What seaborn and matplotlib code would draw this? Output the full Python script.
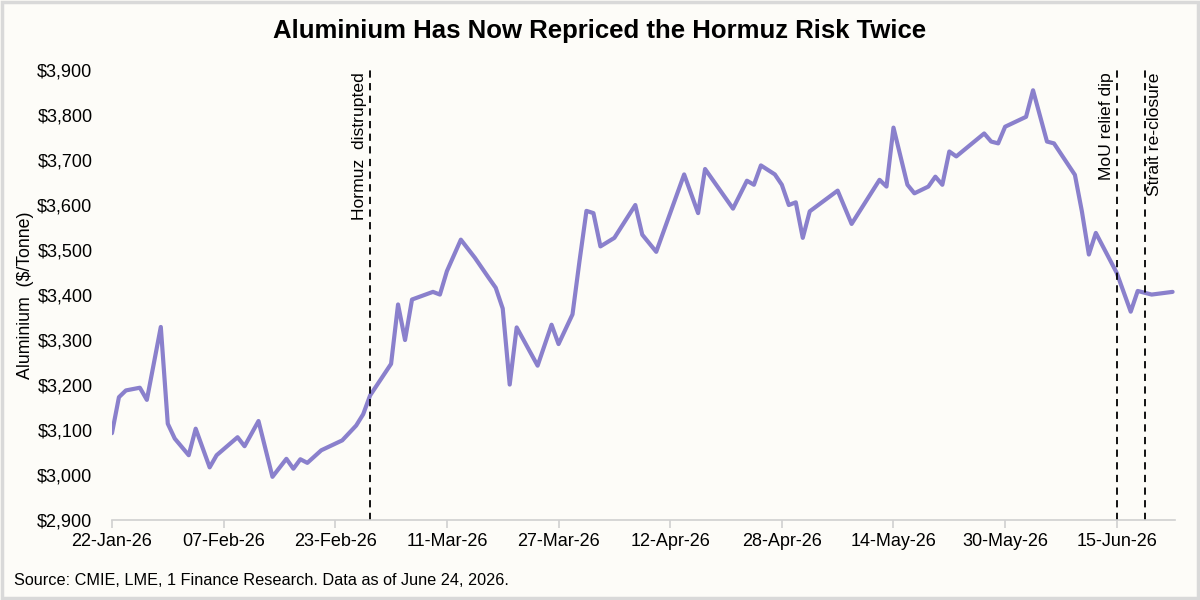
import pandas as pd
import matplotlib.pyplot as plt
import matplotlib.dates as mdates
from matplotlib.patches import Rectangle
import seaborn as sns

# Aluminium price readings ($/tonne)
dates = [
    "2026-01-22", "2026-01-23", "2026-01-24", "2026-01-26", "2026-01-27", "2026-01-29",
    "2026-01-30", "2026-01-31", "2026-02-02", "2026-02-03", "2026-02-05", "2026-02-06",
    "2026-02-09", "2026-02-10", "2026-02-12", "2026-02-14", "2026-02-16", "2026-02-17",
    "2026-02-18", "2026-02-19", "2026-02-21", "2026-02-24", "2026-02-26", "2026-02-27",
    "2026-02-28", "2026-03-03", "2026-03-04", "2026-03-05", "2026-03-06", "2026-03-09",
    "2026-03-10", "2026-03-11", "2026-03-13", "2026-03-15", "2026-03-17", "2026-03-18",
    "2026-03-19", "2026-03-20", "2026-03-21", "2026-03-24", "2026-03-26", "2026-03-27",
    "2026-03-29", "2026-03-30", "2026-03-31", "2026-04-01", "2026-04-02", "2026-04-04",
    "2026-04-07", "2026-04-08", "2026-04-10", "2026-04-14", "2026-04-16", "2026-04-17",
    "2026-04-21", "2026-04-23", "2026-04-24", "2026-04-25", "2026-04-27", "2026-04-28",
    "2026-04-29", "2026-04-30", "2026-05-01", "2026-05-02", "2026-05-06", "2026-05-08",
    "2026-05-12", "2026-05-13", "2026-05-14", "2026-05-16", "2026-05-17", "2026-05-19",
    "2026-05-20", "2026-05-21", "2026-05-22", "2026-05-23", "2026-05-27", "2026-05-28",
    "2026-05-29", "2026-05-30", "2026-06-02", "2026-06-03", "2026-06-05", "2026-06-06",
    "2026-06-09", "2026-06-10", "2026-06-11", "2026-06-12", "2026-06-15", "2026-06-17",
    "2026-06-18", "2026-06-20", "2026-06-23",
]
prices = [
    3093, 3173, 3188, 3194, 3167, 3329,
    3114, 3081, 3044, 3103, 3017, 3044,
    3084, 3064, 3120, 2996, 3036, 3014,
    3035, 3027, 3055, 3077, 3110, 3135,
    3177, 3247, 3379, 3300, 3390, 3407,
    3401, 3453, 3523, 3483, 3438, 3416,
    3370, 3201, 3328, 3243, 3334, 3291,
    3357, 3475, 3587, 3582, 3508, 3527,
    3600, 3534, 3496, 3668, 3582, 3680,
    3592, 3654, 3645, 3688, 3668, 3645,
    3600, 3606, 3527, 3586, 3632, 3558,
    3656, 3641, 3772, 3645, 3626, 3641,
    3663, 3645, 3719, 3708, 3759, 3741,
    3737, 3774, 3796, 3855, 3741, 3737,
    3667, 3586, 3490, 3538, 3449, 3363,
    3409, 3401, 3407,
]

# event markers
event_dates = ["2026-02-28", "2026-06-15", "2026-06-19"]
event_labels = ["Hormuz  distrupted", "MoU relief dip", "Strait re-closure"]
event_sides = ["left", "left", "right"]

tick_dates = ["2026-01-22", "2026-02-07", "2026-02-23", "2026-03-11", "2026-03-27",
              "2026-04-12", "2026-04-28", "2026-05-14", "2026-05-30", "2026-06-15"]
y_ticks = list(range(2900, 4000, 100))

df = pd.DataFrame({"Date": pd.to_datetime(dates), "Price": prices})

bg = "#fdfcf8"
sns.set_theme(style="white")
plt.rcParams["font.family"] = ["Liberation Sans", "DejaVu Sans"]

fig = plt.figure(figsize=(12, 6), dpi=100, facecolor=bg)
ax = fig.add_axes([0.0933, 0.1333, 0.8858, 0.75])
ax.set_facecolor(bg)

sns.lineplot(data=df, x="Date", y="Price", ax=ax, color="#8a80cc", linewidth=3,
             solid_joinstyle="round", solid_capstyle="round")

for d, lab, side in zip(event_dates, event_labels, event_sides):
    t = pd.Timestamp(d)
    ax.axvline(t, ymin=0, ymax=1, color="black", linestyle=(0, (4, 3)), linewidth=1.3)
    off = -0.4 if side == "left" else 0.4
    ax.text(t + pd.Timedelta(days=off), 3895, lab, rotation=90, fontsize=12.6,
            ha="right" if side == "left" else "left", va="top", color="black")

ax.set_xlim(pd.Timestamp("2026-01-22"), pd.Timestamp("2026-06-23 08:00"))
ax.set_ylim(2900, 3900)
ax.set_xticks(pd.to_datetime(tick_dates))
ax.xaxis.set_major_formatter(mdates.DateFormatter("%d-%b-%y"))
ax.set_yticks(y_ticks)
ax.set_yticklabels([f"${v:,.0f}" for v in y_ticks])

for s in ["top", "right", "left"]:
    ax.spines[s].set_visible(False)
ax.spines["bottom"].set_color("#d0d0d0")
ax.spines["bottom"].set_linewidth(1.2)
ax.tick_params(axis="x", which="major", bottom=True, length=6, width=1.2, color="#d0d0d0",
               labelsize=13, pad=3, labelcolor="black")
ax.tick_params(axis="y", left=False, labelsize=13, pad=8, labelcolor="black")

ax.set_xlabel("")
ax.set_ylabel("Aluminium  ($/Tonne)", fontsize=12.8, color="black")
ax.yaxis.set_label_coords(-0.073, 0.5)

fig.text(0.5, 0.948, "Aluminium Has Now Repriced the Hormuz Risk Twice", ha="center", va="center",
         fontsize=18.5, fontweight="bold", color="black")
fig.text(0.012, 0.033, "Source: CMIE, LME, 1 Finance Research. Data as of June 24, 2026.",
         ha="left", va="center", fontsize=11.7, color="black")

fig.patches.append(Rectangle((0.002, 0.003), 0.996, 0.994, transform=fig.transFigure,
                             fill=False, edgecolor="#d9d9d9", linewidth=2.5))

fig.savefig("out.png", dpi=100, facecolor=bg)
